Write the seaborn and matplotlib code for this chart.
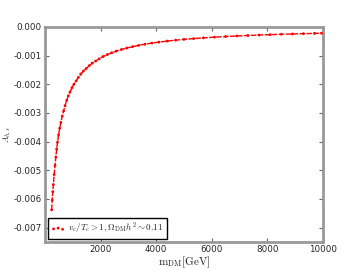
import numpy as np
import pandas as pd
import seaborn as sns
import matplotlib
matplotlib.use("Agg")
import matplotlib.pyplot as plt

# values
m_dm = [240, 260, 280, 300, 330, 360, 390, 420, 450, 490, 530, 570, 620, 670,
        720, 780, 840, 900, 970, 1040, 1120, 1200, 1290, 1380, 1480, 1590, 1700,
        1820, 1950, 2090, 2240, 2400, 2570, 2750, 2940, 3150, 3370, 3600, 3850,
        4100, 4400, 4700, 5000, 5350, 5700, 6100, 6500, 6900, 7300, 7700, 8100,
        8500, 8900, 9300, 9700, 9950]
a_hs = [-0.00638, -0.00604, -0.00575, -0.0055, -0.00515, -0.00483, -0.00454,
        -0.00426, -0.00402, -0.00376, -0.00353, -0.00333, -0.00311, -0.00293,
        -0.00275, -0.00256, -0.0024, -0.00227, -0.00212, -0.002, -0.00188,
        -0.00176, -0.00164, -0.00154, -0.00145, -0.00135, -0.00126, -0.00119,
        -0.00111, -0.00103, -0.000964, -0.0009, -0.00084, -0.000785, -0.000735,
        -0.000686, -0.000641, -0.0006, -0.000561, -0.000527, -0.000491,
        -0.00046, -0.000432, -0.000404, -0.000379, -0.000354, -0.000332,
        -0.000313, -0.000296, -0.000281, -0.000267, -0.000254, -0.000243,
        -0.000232, -0.000223, -0.000217]
legend_label = r"$v_c/T_c>1, \Omega_{\rm DM}h^2\sim0.11$"

df = pd.DataFrame({"m": m_dm, "A": a_hs})

sns.set_style("ticks")
plt.rcParams["font.family"] = ["DejaVu Sans"]
plt.rcParams["mathtext.fontset"] = "cm"

fig = plt.figure(figsize=(3.6, 2.7), dpi=100)
ax = fig.add_axes([0.125, 0.104, 0.772, 0.796])

ax.plot(df["m"], df["A"], color="red", lw=1.0, ls=(0, (4, 1)), zorder=2)
sns.scatterplot(data=df, x="m", y="A", ax=ax, color="red", s=4,
                edgecolor="none", label=legend_label, zorder=3)

ax.set_xlim(0, 10000)
ax.set_ylim(-0.0075, 0)
ax.set_xticks([2000, 4000, 6000, 8000, 10000])
ax.set_yticks(np.arange(-0.007, 0.0005, 0.001))
ax.yaxis.set_major_formatter(matplotlib.ticker.FormatStrFormatter("%.3f"))

for s in ax.spines.values():
    s.set_color("#999999")
    s.set_linewidth(2)
ax.tick_params(direction="in", top=True, right=True, labelsize=6.3,
               length=3, color="#666666", pad=2.5)

ax.set_xlabel(r"$\mathrm{m_{DM}[GeV]}$", fontsize=8)
ax.xaxis.set_label_coords(0.5, -0.06)
ax.set_ylabel(r"$A_{h,s}$", fontsize=6)
ax.yaxis.set_label_coords(-0.112, 0.5)

leg = ax.legend(loc="lower left", scatterpoints=3, fontsize=6.5, fancybox=False,
                framealpha=1, borderaxespad=0.3, handletextpad=0.3,
                borderpad=0.35, handlelength=1.6)
leg.get_frame().set_edgecolor("black")
leg.get_frame().set_linewidth(1)

fig.savefig("out.png", dpi=100)
